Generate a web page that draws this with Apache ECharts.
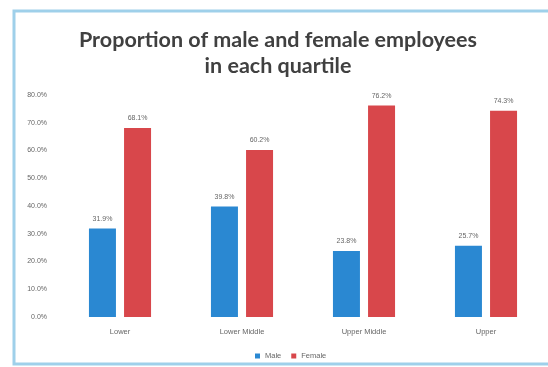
<!DOCTYPE html>
<html><head><meta charset="utf-8">
<script src="https://cdn.jsdelivr.net/npm/echarts@6/dist/echarts.min.js"></script>
<style>html,body{margin:0;padding:0;background:#fff}#c{width:548px;height:367px}</style>
</head><body><div id="c"></div>
<script>
var categories = ["Lower", "Lower Middle", "Upper Middle", "Upper"];
var male = [31.9, 39.8, 23.8, 25.7];
var female = [68.1, 60.2, 76.2, 74.3];
var titleLines = ["Proportion of male and female employees", "in each quartile"];

var chart = echarts.init(document.getElementById('c'), null, {renderer: 'canvas'});
var labelStyle = {show: true, position: 'top', distance: 6, fontSize: 7, color: '#666',
  fontFamily: 'Liberation Sans', formatter: function (p) { return p.value.toFixed(1) + '%'; }};
chart.setOption({
  backgroundColor: '#fff',
  animation: false,
  title: {
    text: titleLines.join('\n'), left: 273, top: 22, textAlign: 'center',
    textStyle: {fontFamily: 'Lato', fontWeight: 'bold', fontSize: 21.5, color: '#404040', lineHeight: 26}
  },
  graphic: [{type: 'rect', shape: {x: 14, y: 11, width: 560, height: 353},
    style: {fill: 'none', stroke: '#9fd0ea', lineWidth: 3}}],
  legend: {
    top: 347, left: 250, itemWidth: 5, itemHeight: 5, itemGap: 10,
    icon: 'rect', textStyle: {fontSize: 7.5, color: '#666', fontFamily: 'Liberation Sans'},
    data: ['Male', 'Female']
  },
  grid: {left: 59, right: 1, top: 95, bottom: 50},
  xAxis: {
    type: 'category', data: categories,
    axisLine: {show: false}, axisTick: {show: false},
    axisLabel: {fontSize: 7.5, color: '#666', margin: 11, fontFamily: 'Liberation Sans'}
  },
  yAxis: {
    type: 'value', min: 0, max: 80, interval: 10,
    splitLine: {show: false}, axisLine: {show: false}, axisTick: {show: false},
    axisLabel: {fontSize: 7, color: '#666', margin: 12, fontFamily: 'Liberation Sans',
      formatter: function (v) { return v.toFixed(1) + '%'; }}
  },
  series: [
    {name: 'Male', type: 'bar', data: male, barWidth: 27, barGap: '30%',
     itemStyle: {color: '#2a88d2'}, label: labelStyle},
    {name: 'Female', type: 'bar', data: female, barWidth: 27,
     itemStyle: {color: '#d8474b'}, label: labelStyle}
  ]
});
</script></body></html>
